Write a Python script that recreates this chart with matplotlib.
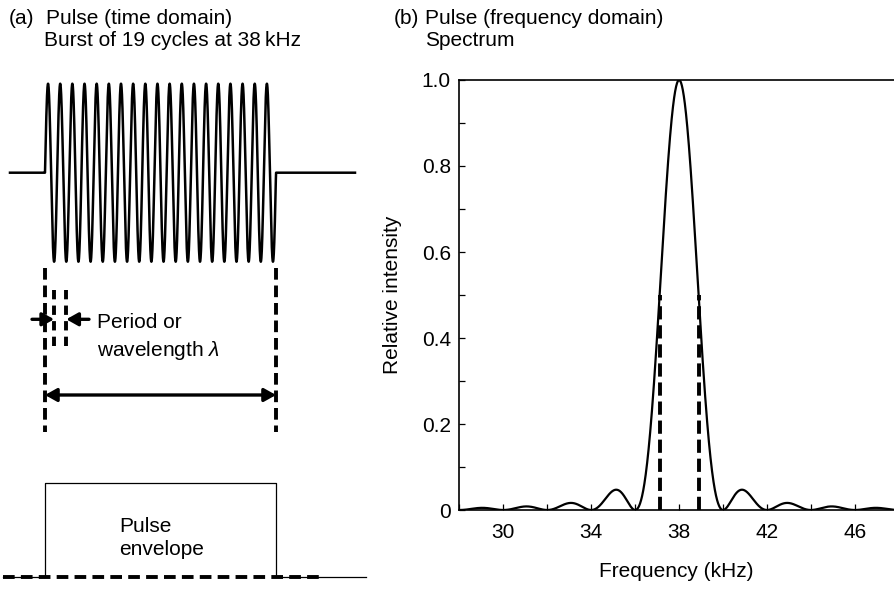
import numpy as np
import matplotlib
matplotlib.use("Agg")
import matplotlib.pyplot as plt
from matplotlib.ticker import FixedLocator, FuncFormatter

plt.rcParams['font.family'] = ['Liberation Sans', 'DejaVu Sans']
plt.rcParams['mathtext.fontset'] = 'custom'
plt.rcParams['mathtext.it'] = 'Liberation Sans:italic'
plt.rcParams['mathtext.rm'] = 'Liberation Sans'

# Pulse parameters
n_cycles = 19
f0_khz = 38.0
duration_ms = n_cycles / f0_khz          # 0.5 ms
period_ms = 1.0 / f0_khz

# Spectrum axis settings
freq_ticks = [30, 34, 38, 42, 46]
freq_minor = [28, 32, 36, 40, 44, 48]
intensity_ticks = [0, 0.2, 0.4, 0.6, 0.8, 1.0]
intensity_minor = [0.1, 0.3, 0.5, 0.7, 0.9]
half_power = 0.5

W, H = 894, 589
fig = plt.figure(figsize=(W / 100, H / 100), dpi=100)
FS = 15

# ---------------- (a) time domain ----------------
axL = fig.add_axes([0, 0, 380 / W, 1])
px_per_ms = 462.0
x0_px = 45.0
axL.set_xlim((0 - x0_px) / px_per_ms, (380 - x0_px) / px_per_ms)
amp_px = 89.0
yc_px = 172.7
axL.set_ylim((yc_px - H) / amp_px, yc_px / amp_px)
axL.axis('off')

def ypx(p):
    return (yc_px - p) / amp_px

t = np.linspace(-0.0758, 0.671, 6000)
burst = np.where((t >= 0) & (t <= duration_ms), np.sin(2 * np.pi * f0_khz * t), 0.0)
axL.plot(t, burst, color='black', lw=1.8, solid_joinstyle='round')

lw_d = 2.8
# start / end markers of the burst
for tm in (0.0, duration_ms):
    axL.plot([tm, tm], [ypx(268), ypx(432)], color='black', lw=lw_d,
             dashes=(3.0, 1.5), dash_capstyle='butt')

# one period between two successive troughs
tr1 = 0.75 * period_ms
tr2 = tr1 + period_ms
for tm in (tr1, tr2):
    axL.plot([tm, tm], [ypx(290), ypx(350)], color='black', lw=lw_d,
             dashes=(2.4, 1.6), dash_capstyle='butt')

ya = ypx(319.3)
arrow_kw = dict(arrowstyle='-|>,head_length=0.5,head_width=0.28', color='black',
                lw=2.4, shrinkA=0, shrinkB=0, mutation_scale=14)
axL.annotate('', xy=(tr1, ya), xytext=((32 - x0_px) / px_per_ms, ya), arrowprops=arrow_kw)
axL.annotate('', xy=(tr2, ya), xytext=((89 - x0_px) / px_per_ms, ya), arrowprops=arrow_kw)
axL.text((97 - x0_px) / px_per_ms, ypx(323), 'Period or', fontsize=FS, va='center', ha='left')
axL.text((97 - x0_px) / px_per_ms, ypx(350), r'wavelength $\it{\lambda}$', fontsize=FS,
         va='center', ha='left')

# pulse length arrow
yl = ypx(395)
axL.annotate('', xy=(duration_ms, yl), xytext=(0, yl),
             arrowprops=dict(arrowstyle='<|-|>,head_length=0.5,head_width=0.28',
                             color='black', lw=2.4, shrinkA=0, shrinkB=0, mutation_scale=14))

# pulse envelope
env_base = ypx(577.3)
env_top = ypx(482.7)
te = np.array([-0.0909, 0.0, 0.0, duration_ms, duration_ms, 0.695])
ev = np.array([0, 0, 1, 1, 0, 0]) * (env_top - env_base) + env_base
axL.plot(te, ev, color='black', lw=0.9)
axL.plot([-0.0909, 0.6], [env_base, env_base], color='black', lw=lw_d,
         dashes=(3.0, 1.6), dash_capstyle='butt')
axL.text((119 - x0_px) / px_per_ms, ypx(538), 'Pulse\nenvelope', fontsize=FS,
         va='center', ha='left', linespacing=1.3)

fig.text(9 / W, 1 - 19 / H, '(a)', fontsize=FS, va='center', ha='left')
fig.text(46 / W, 1 - 19 / H, 'Pulse (time domain)', fontsize=FS, va='center', ha='left')
fig.text(44 / W, 1 - 40 / H, 'Burst of 19 cycles at 38\u2009kHz', fontsize=FS,
         va='center', ha='left', family=['Liberation Sans', 'DejaVu Sans'])

# ---------------- (b) frequency domain ----------------
x_left_px = 459.3
px_per_khz = 21.98
x_max = 28 + (W - x_left_px) / px_per_khz
axR = fig.add_axes([x_left_px / W, (H - 510) / H, (W - x_left_px) / W, 430 / H])
f = np.linspace(28, x_max, 3000)
spec = np.sinc((f - f0_khz) * duration_ms) ** 2
axR.plot(f, spec, color='black', lw=1.6)

# half-power points of the main lobe
main = (f > f0_khz - 1 / duration_ms) & (f < f0_khz)
f_lo = np.interp(half_power, spec[main], f[main])
f_hi = 2 * f0_khz - f_lo
for fh in (f_lo, f_hi):
    axR.plot([fh, fh], [0, half_power], color='black', lw=lw_d,
             dashes=(3.4, 1.5), dash_capstyle='butt')

axR.set_xlim(28, x_max)
axR.set_ylim(0, 1.0)
axR.spines['right'].set_visible(False)
for s in ('left', 'top', 'bottom'):
    axR.spines[s].set_linewidth(1.2)
axR.xaxis.set_major_locator(FixedLocator(freq_ticks))
axR.xaxis.set_minor_locator(FixedLocator(freq_minor))
axR.yaxis.set_major_locator(FixedLocator(intensity_ticks))
axR.yaxis.set_minor_locator(FixedLocator(intensity_minor))
axR.yaxis.set_major_formatter(FuncFormatter(lambda v, p: '0' if v == 0 else f'{v:.1f}'))
axR.tick_params(which='both', direction='in', length=4.5, width=0.9, labelsize=FS,
                top=False, right=False)
axR.tick_params(axis='x', which='major', pad=9)
axR.tick_params(axis='y', which='major', pad=6)
axR.set_xlabel('Frequency (kHz)', fontsize=FS, labelpad=15)
axR.set_ylabel('Relative intensity', fontsize=FS, labelpad=14)

fig.text(394 / W, 1 - 19 / H, '(b)', fontsize=FS, va='center', ha='left')
fig.text(425 / W, 1 - 19 / H, 'Pulse (frequency domain)', fontsize=FS, va='center', ha='left')
fig.text(425 / W, 1 - 40 / H, 'Spectrum', fontsize=FS, va='center', ha='left')

fig.savefig('out.png', dpi=100)
